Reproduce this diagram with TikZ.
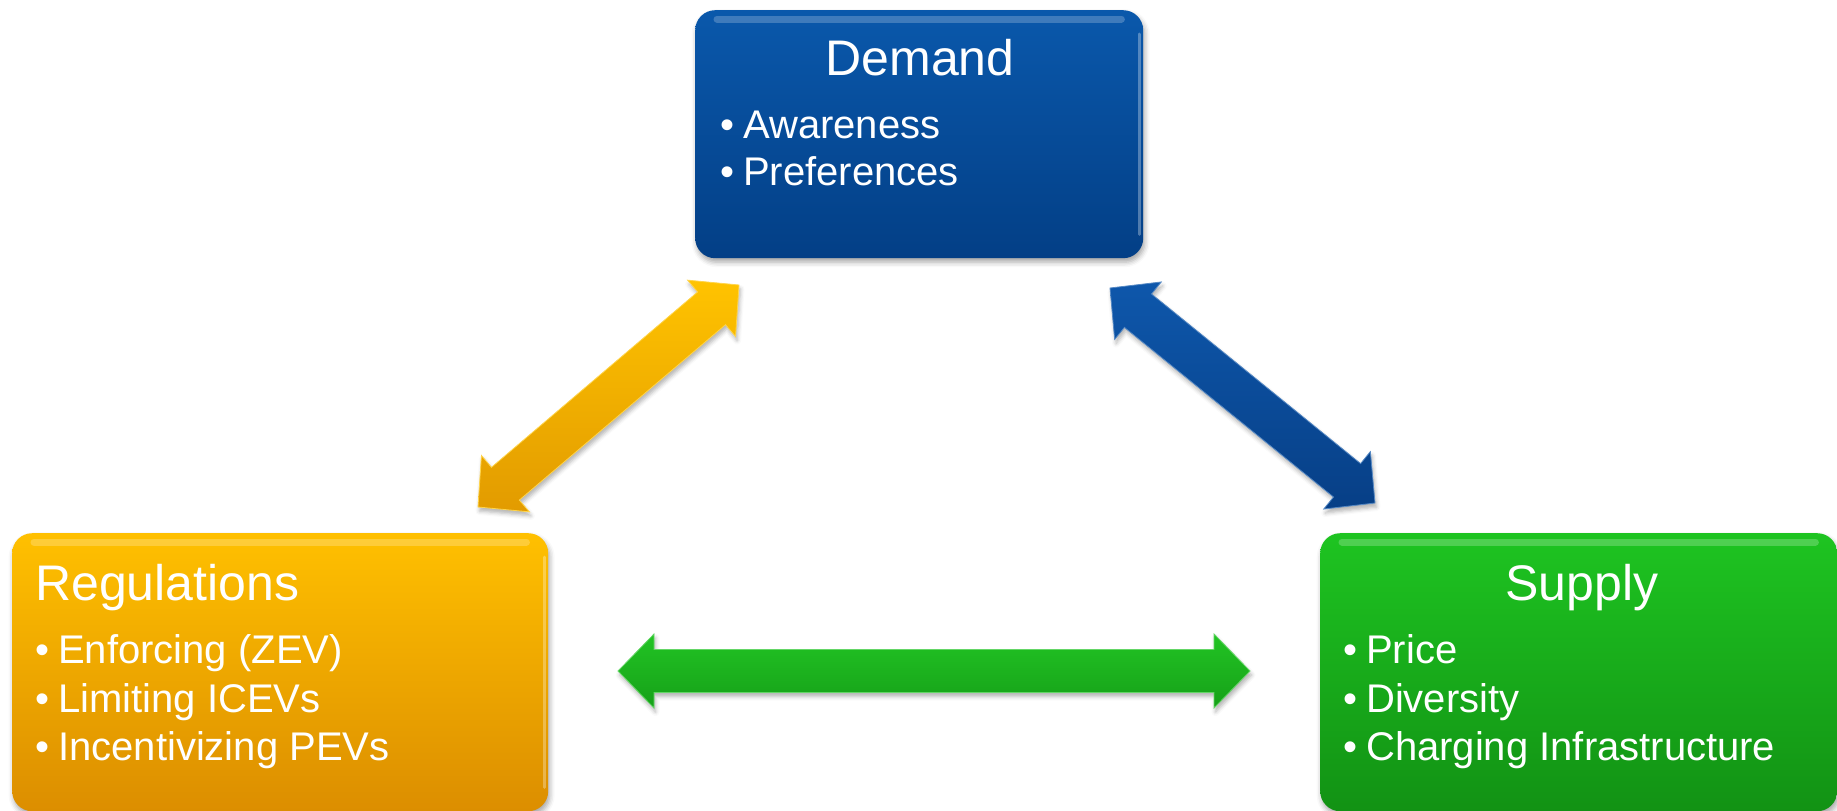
\documentclass[tikz,border=0pt]{standalone}
\usepackage{fontspec}
\setmainfont{Liberation Sans}
\usetikzlibrary{calc,shadows.blur}

\definecolor{demandTop}{HTML}{0A58AB}
\definecolor{demandBot}{HTML}{033F86}
\definecolor{regTop}{HTML}{FFC000}
\definecolor{regBot}{HTML}{DC8E00}
\definecolor{supTop}{HTML}{1EC421}
\definecolor{supBot}{HTML}{129214}
\definecolor{yelTop}{HTML}{FFC300}
\definecolor{yelBot}{HTML}{E29B00}
\definecolor{bluTop}{HTML}{0E57AB}
\definecolor{bluBot}{HTML}{073F86}
\definecolor{grnTop}{HTML}{22C424}
\definecolor{grnBot}{HTML}{16A018}

% bullet followed by its text
\newcommand\bitem[1]{\makebox[23pt][l]{•}#1}

% double-headed block arrow between two named tips
\newcommand\blockarrow[3]{%
  \coordinate (#2-base) at ($(#2)!36pt!(#3)$);
  \coordinate (#3-base) at ($(#3)!36pt!(#2)$);
  \path[#1] (#2)
    -- ($(#2-base)!37pt!90:(#3)$) -- ($(#2-base)!21.5pt!90:(#3)$)
    -- ($(#3-base)!21.5pt!-90:(#2)$) -- ($(#3-base)!37pt!-90:(#2)$)
    -- (#3)
    -- ($(#3-base)!37pt!90:(#2)$) -- ($(#3-base)!21.5pt!90:(#2)$)
    -- ($(#2-base)!21.5pt!-90:(#3)$) -- ($(#2-base)!37pt!-90:(#3)$)
    -- cycle;
}

\tikzset{
  panel/.style={rounded corners=20pt, draw=none, inner sep=0pt, anchor=north west,
    blur shadow={shadow xshift=1.5pt, shadow yshift=-4pt, shadow blur radius=5pt, shadow opacity=35}},
  heading/.style={text=white, font=\fontsize{50}{60}\selectfont, inner sep=0pt},
  item/.style={text=white, font=\fontsize{40}{48}\selectfont, inner sep=0pt, anchor=base west},
  gloss/.style={white, opacity=0.22, line width=7pt, line cap=round},
  rim/.style={white, opacity=0.3, line width=3pt, line cap=round},
  barrow/.style={draw=#1Top!70!white, line width=0.8pt, line join=miter,
    top color=#1Top, bottom color=#1Bot,
    blur shadow={shadow xshift=1.5pt, shadow yshift=-4pt, shadow blur radius=4pt, shadow opacity=30}},
}

\begin{document}
\begin{tikzpicture}[x=1pt, y=-1pt]
\useasboundingbox (0,0) rectangle (1837,811);

% panels
\node[panel, top color=demandTop, bottom color=demandBot,
      minimum width=448pt, minimum height=248pt] (demand) at (695,10) {};
\node[panel, top color=regTop, bottom color=regBot,
      minimum width=536pt, minimum height=278pt] (regulations) at (12,533) {};
\node[panel, top color=supTop, bottom color=supBot,
      minimum width=517pt, minimum height=278pt] (supply) at (1320,533) {};

% glossy highlights along the top and right edges
\draw[gloss] ($(demand.north west)+(22,9)$) -- ($(demand.north east)+(-22,9)$);
\draw[rim] ($(demand.north east)+(-4,24)$) -- ($(demand.south east)+(-4,-24)$);
\draw[gloss] ($(regulations.north west)+(22,9)$) -- ($(regulations.north east)+(-22,9)$);
\draw[rim] ($(regulations.north east)+(-4,24)$) -- ($(regulations.south east)+(-4,-24)$);
\draw[gloss] ($(supply.north west)+(22,9)$) -- ($(supply.north east)+(-22,9)$);

% texts
\node[heading, anchor=base] (demandTitle) at (920,75) {Demand};
\node[item] (aw) at (720,138) {\bitem{Awareness}};
\node[item] (pref) at (720,185) {\bitem{Preferences}};

\node[heading, anchor=base west] (regTitle) at (35,600) {Regulations};
\node[item] (enf) at (35,663) {\bitem{Enforcing (ZEV)}};
\node[item] (lim) at (35,712) {\bitem{Limiting ICEVs}};
\node[item] (inc) at (35,760) {\bitem{Incentivizing PEVs}};

\node[heading, anchor=base] (supTitle) at (1582,600) {Supply};
\node[item] (price) at (1343,663) {\bitem{Price}};
\node[item] (div) at (1343,712) {\bitem{Diversity}};
\node[item] (chg) at (1343,760) {\bitem{Charging Infrastructure}};

% arrow tips
\coordinate (ya) at (478,507);
\coordinate (yb) at (739,285);
\coordinate (ba) at (1110,288);
\coordinate (bb) at (1375,503);
\coordinate (ga) at (618,671);
\coordinate (gb) at (1250,671);

% block arrows
\blockarrow{barrow=yel}{ya}{yb}
\blockarrow{barrow=blu}{ba}{bb}
\blockarrow{barrow=grn}{ga}{gb}
\end{tikzpicture}
\end{document}
